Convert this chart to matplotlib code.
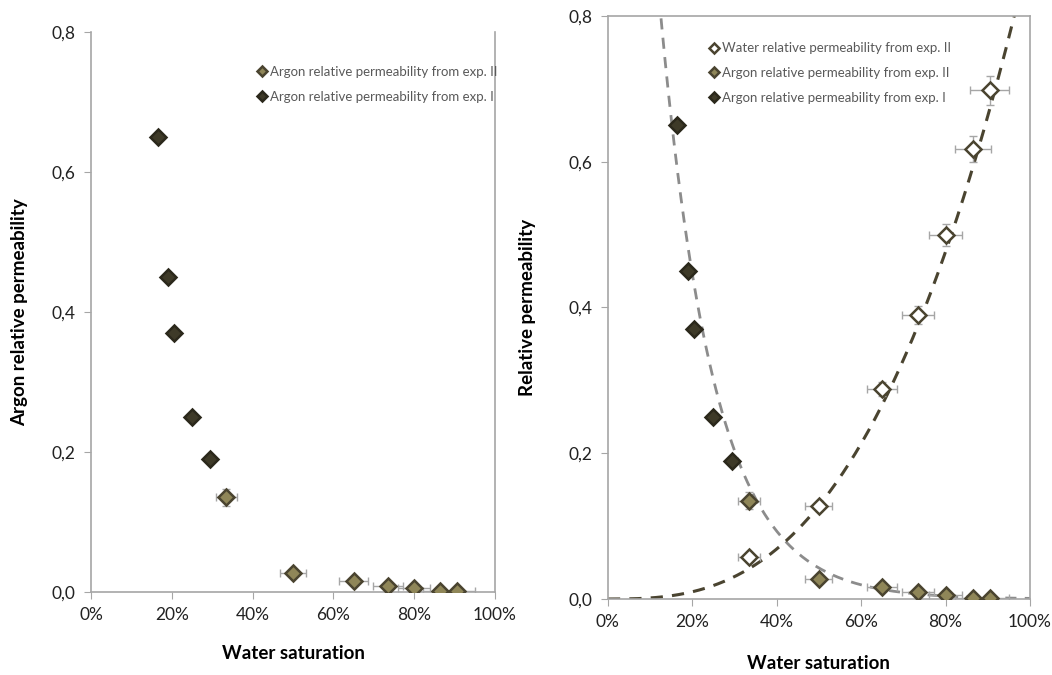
import numpy as np
import matplotlib.pyplot as plt

plt.rcParams['font.family'] = ['Lato', 'DejaVu Sans']

# water saturation (%) and relative permeabilities
sw_exp1 = [16.5, 19.0, 20.5, 25.0, 29.5]
kr_ar_exp1 = [0.65, 0.45, 0.37, 0.25, 0.19]

sw_exp2 = [33.5, 50.0, 65.0, 73.5, 80.0, 86.5, 90.5]
kr_ar_exp2 = [0.135, 0.027, 0.016, 0.009, 0.005, 0.002, 0.001]
kr_w_exp2 = [0.057, 0.127, 0.288, 0.390, 0.500, 0.618, 0.698]

sw_err = [2.6, 3.2, 3.5, 3.8, 4.0, 4.3, 4.6]
kr_ar_err = [0.012, 0.004, 0.004, 0.003, 0.003, 0.002, 0.002]
kr_w_err = [0.006, 0.006, 0.01, 0.012, 0.015, 0.018, 0.02]

# trend lines
ar_fit = (2.15, 7.84)     # kr = a*exp(-b*Sw)
w_fit = (0.89, 2.8)       # kr = a*Sw^n

c_edge = '#4a4430'
c_exp2 = '#8f8658'
c_exp1 = '#3e3a28'
c_err = '#a6a6a6'
c_axis = '#a6a6a6'

fig = plt.figure(figsize=(10.52, 6.75), dpi=100)
ax1 = fig.add_axes([0.0865, 0.123, 0.384, 0.830])
ax2 = fig.add_axes([0.5775, 0.1126, 0.4016, 0.8637])


def style(ax, ylabel, xpad, ypad):
    ax.set_xlim(0, 100)
    ax.set_ylim(0, 0.8)
    ax.set_xticks(np.arange(0, 101, 20))
    ax.set_xticklabels([f'{v}%' for v in range(0, 101, 20)])
    ax.set_yticks(np.arange(0, 0.81, 0.2))
    ax.set_yticklabels([f'{v:.1f}'.replace('.', ',') for v in np.arange(0, 0.81, 0.2)])
    ax.tick_params(direction='out', length=5, color=c_axis, labelsize=12.5,
                   labelcolor='#222222', pad=6)
    for s in ax.spines.values():
        s.set_color(c_axis)
        s.set_linewidth(1.2)
    ax.set_xlabel('Water saturation', fontsize=13.5, fontweight='bold', labelpad=xpad)
    ax.set_ylabel(ylabel, fontsize=13.5, fontweight='bold', labelpad=ypad)


mk = dict(marker='D', markersize=8.5, markeredgewidth=1.8, linestyle='none')
leg_kw = dict(loc='upper left', frameon=False, fontsize=9.5, handlelength=0.6,
              handletextpad=0.3, labelspacing=0.95, markerscale=0.6)

# left chart
style(ax1, 'Argon relative permeability', 16, 17)
ax1.spines['top'].set_visible(False)
ax1.errorbar(sw_exp2, kr_ar_exp2, xerr=sw_err, yerr=kr_ar_err, fmt='none',
             ecolor=c_err, elinewidth=1, capsize=3, zorder=2)
ax1.plot(sw_exp2, kr_ar_exp2, color=c_exp2, markeredgecolor=c_edge,
         label='Argon relative permeability from exp. II', zorder=3, **mk)
ax1.plot(sw_exp1, kr_ar_exp1, color=c_exp1, markeredgecolor='#2b281b',
         label='Argon relative permeability from exp. I', zorder=3, **mk)
leg1 = ax1.legend(bbox_to_anchor=(0.385, 0.96), **leg_kw)
for t in leg1.get_texts():
    t.set_color('#595959')

# right chart
style(ax2, 'Relative permeability', 18, 23)
s = np.linspace(0.001, 1.0, 400)
ax2.plot(s * 100, ar_fit[0] * np.exp(-ar_fit[1] * s), color='#8c8c8c',
         linestyle=(0, (4, 3)), linewidth=2, zorder=1)
ax2.plot(s * 100, w_fit[0] * s ** w_fit[1], color=c_edge,
         linestyle=(0, (4, 3)), linewidth=2.2, zorder=1)
ax2.errorbar(sw_exp2, kr_w_exp2, xerr=sw_err, yerr=kr_w_err, fmt='none',
             ecolor=c_err, elinewidth=1, capsize=3, zorder=2)
ax2.errorbar(sw_exp2, kr_ar_exp2, xerr=sw_err, yerr=kr_ar_err, fmt='none',
             ecolor=c_err, elinewidth=1, capsize=3, zorder=2)
ax2.plot(sw_exp2, kr_w_exp2, color='white', markeredgecolor=c_edge,
         label='Water relative permeability from exp. II', zorder=3, **mk)
ax2.plot(sw_exp2, kr_ar_exp2, color=c_exp2, markeredgecolor=c_edge,
         label='Argon relative permeability from exp. II', zorder=3, **mk)
ax2.plot(sw_exp1, kr_ar_exp1, color=c_exp1, markeredgecolor='#2b281b',
         label='Argon relative permeability from exp. I', zorder=3, **mk)
leg2 = ax2.legend(bbox_to_anchor=(0.215, 0.975), **leg_kw)
for t in leg2.get_texts():
    t.set_color('#595959')

fig.savefig('out.png', dpi=100)
